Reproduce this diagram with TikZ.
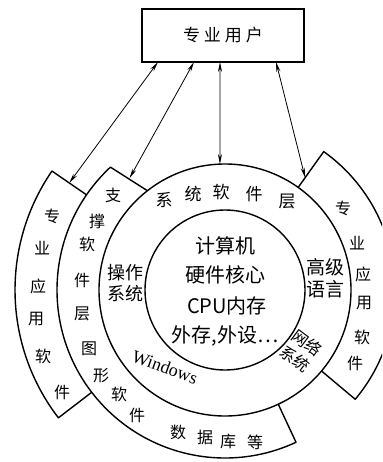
\documentclass[tikz,border=0pt]{standalone}
\usepackage{fontspec}
\setmainfont{Liberation Serif}
\newfontfamily\cjk{Noto Sans CJK SC}
\usetikzlibrary{arrows.meta,calc}
\begin{document}
\begin{tikzpicture}[x=1pt,y=1pt,
  shapeline/.style={line width=1.4pt, line join=round},
  conn/.style={line width=0.8pt, {Stealth[length=10pt,width=4pt]}-{Stealth[length=10pt,width=4pt]}},
  ch/.style={inner sep=0pt, font=\cjk\fontsize{16}{16}\selectfont},
  chb/.style={inner sep=0pt, font=\cjk\fontsize{17}{17}\selectfont},
  core/.style={inner sep=0pt, font=\cjk\fontsize{20}{20}\selectfont},
  two/.style={inner sep=0pt, align=center, font=\cjk\fontsize{18}{21}\selectfont}
]
\useasboundingbox (0,0) rectangle (382,-462);
\clip (0,0) rectangle (382,-462);
\coordinate (C) at (225,-290);

% user box
\node[draw, line width=1.4pt, minimum width=162pt, minimum height=53pt, inner sep=0pt,
      font=\cjk\fontsize{17}{17}\selectfont] (user) at (223,-35.5)
      {专\hspace{4pt}业\hspace{4pt}用\hspace{4pt}户};

% circles
\node[draw, circle, shapeline, minimum size=160pt, inner sep=0pt] (corec) at (C) {};
\node[draw, circle, shapeline, minimum size=252pt, inner sep=0pt] (sysc) at (C) {};

% support software ring
\draw[shapeline] ($(C)+(128:126)$) -- ($(C)+(133:168)$)
  arc[start angle=133, end angle=295, radius=168] -- ($(C)+(295:126)$);
% left application sector
\draw[shapeline] ($(C)+(145.5:168)$) -- ($(C)+(145.5:210)$)
  arc[start angle=145.5, end angle=217.5, radius=210] -- ($(C)+(217.5:168)$);
% right application sector
\draw[shapeline] ($(C)+(54.5:126)$) -- ($(C)+(54.5:170)$)
  arc[start angle=54.5, end angle=-40, radius=170] -- ($(C)+(-40:126)$);

% connectors
\coordinate (u1) at (158,-62);
\coordinate (u2) at (194,-62);
\coordinate (u3) at (220,-62);
\coordinate (u4) at (276,-62);
\coordinate (t1) at ($(C)+(145.5:189)$);
\coordinate (t2) at ($(C)+(130.5:147)$);
\coordinate (t3) at ($(C)+(92.3:126)$);
\coordinate (t4) at ($(C)+(54.5:138)$);
\draw[conn] (u1) -- (t1);
\draw[conn] (u2) -- (t2);
\draw[conn] (u3) -- (t3);
\draw[conn] (u4) -- (t4);

% core text
\node[core] (k1) at (225,-246) {计算机};
\node[core] (k2) at (225,-275) {硬件核心};
\node[core] (k3) at (227,-306) {CPU{\cjk 内存}};
\node[core] (k4) at (225,-336) {外存,外设…};

% system software layer
\node[chb] (s1) at (164,-200) {系};
\node[chb] (s2) at (193,-194) {统};
\node[chb] (s3) at (221,-192) {软};
\node[chb] (s4) at (254,-194) {件};
\node[chb] (s5) at (287,-202) {层};
\node[two] (os) at (125,-283) {操作\\系统};
\node[two, font=\cjk\fontsize{19}{22}\selectfont] (hl) at (325,-278) {高级\\语言};
\node[two, rotate=-37, font=\cjk\fontsize{16}{20}\selectfont] (net) at (301,-351) {网络\\系统};
\node[inner sep=0pt, rotate=-20, font=\fontsize{18}{18}\selectfont] (win) at (165,-367) {Windows};

% support software ring text
\node[ch] (r1) at (113,-195) {支};
\node[ch] (r2) at (97,-221) {撑};
\node[ch] (r3) at (87,-244) {软};
\node[ch] (r4) at (82,-280) {件};
\node[ch] (r5) at (82,-314) {层};
\node[ch] (r6) at (89,-349) {图};
\node[ch] (r7) at (101,-376) {形};
\node[ch] (r8) at (119,-394) {软};
\node[ch] (r9) at (137,-415) {件};
\node[ch] (d1) at (178,-432) {数};
\node[ch] (d2) at (205,-437) {据};
\node[ch] (d3) at (228,-441) {库};
\node[ch] (d4) at (255,-442) {等};

% left application sector text
\node[ch] (l1) at (52,-216) {专};
\node[ch] (l2) at (42,-248) {业};
\node[ch] (l3) at (38,-286) {应};
\node[ch] (l4) at (36,-319) {用};
\node[ch] (l5) at (43,-356) {软};
\node[ch] (l6) at (62,-392) {件};

% right application sector text
\node[ch] (p1) at (343,-208) {专};
\node[ch] (p2) at (357,-243) {业};
\node[ch] (p3) at (363,-274) {应};
\node[ch] (p4) at (364,-303) {用};
\node[ch] (p5) at (362,-337) {软};
\node[ch] (p6) at (355,-363) {件};
\end{tikzpicture}
\end{document}
